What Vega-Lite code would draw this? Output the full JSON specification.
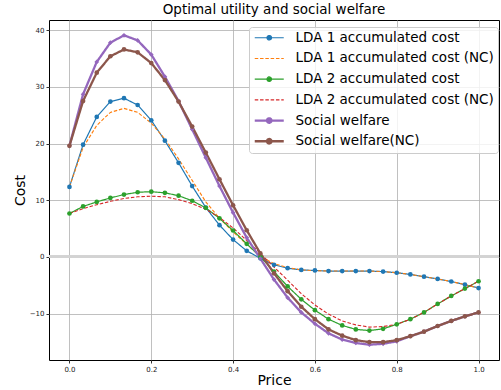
{
  "$schema": "https://vega.github.io/schema/vega-lite/v6.json",
  "width": 450,
  "height": 340,
  "autosize": {"type": "none"},
  "padding": {"left": 49, "top": 20, "right": 2, "bottom": 30},
  "background": "white",
  "title": {"text": "Optimal utility and social welfare", "fontSize": 13.5, "fontWeight": "normal", "font": "DejaVu Sans", "color": "#000", "offset": 4, "anchor": "middle"},
  "config": {
    "font": "DejaVu Sans",
    "view": {"stroke": "#000", "strokeWidth": 1},
    "axis": {"domain": false, "grid": true, "gridColor": "#b0b0b0", "gridWidth": 0.8, "tickColor": "#000", "tickSize": 3, "tickWidth": 0.8, "labelFontSize": 7, "labelColor": "#222", "labelPadding": 2, "titleFontSize": 14, "titleFontWeight": "normal", "titleColor": "#000"}
  },
  "data": {"values": [
    {"p": 0.0, "LDA 1 accumulated cost": 12.35, "LDA 1 accumulated cost (NC)": 12.35, "LDA 2 accumulated cost": 7.65, "LDA 2 accumulated cost (NC)": 7.65, "Social welfare": 19.6, "Social welfare(NC)": 19.6},
    {"p": 0.0333, "LDA 1 accumulated cost": 19.8, "LDA 1 accumulated cost (NC)": 19.3, "LDA 2 accumulated cost": 8.9, "LDA 2 accumulated cost (NC)": 8.5, "Social welfare": 28.7, "Social welfare(NC)": 27.5},
    {"p": 0.0667, "LDA 1 accumulated cost": 24.7, "LDA 1 accumulated cost (NC)": 23.2, "LDA 2 accumulated cost": 9.7, "LDA 2 accumulated cost (NC)": 9.2, "Social welfare": 34.4, "Social welfare(NC)": 32.5},
    {"p": 0.1, "LDA 1 accumulated cost": 27.4, "LDA 1 accumulated cost (NC)": 25.5, "LDA 2 accumulated cost": 10.4, "LDA 2 accumulated cost (NC)": 9.8, "Social welfare": 37.8, "Social welfare(NC)": 35.4},
    {"p": 0.1333, "LDA 1 accumulated cost": 28.0, "LDA 1 accumulated cost (NC)": 26.2, "LDA 2 accumulated cost": 11.0, "LDA 2 accumulated cost (NC)": 10.3, "Social welfare": 39.1, "Social welfare(NC)": 36.6},
    {"p": 0.1667, "LDA 1 accumulated cost": 26.8, "LDA 1 accumulated cost (NC)": 25.5, "LDA 2 accumulated cost": 11.4, "LDA 2 accumulated cost (NC)": 10.6, "Social welfare": 38.2, "Social welfare(NC)": 36.1},
    {"p": 0.2, "LDA 1 accumulated cost": 24.1, "LDA 1 accumulated cost (NC)": 23.6, "LDA 2 accumulated cost": 11.5, "LDA 2 accumulated cost (NC)": 10.7, "Social welfare": 35.7, "Social welfare(NC)": 34.2},
    {"p": 0.2333, "LDA 1 accumulated cost": 20.5, "LDA 1 accumulated cost (NC)": 20.8, "LDA 2 accumulated cost": 11.3, "LDA 2 accumulated cost (NC)": 10.6, "Social welfare": 31.8, "Social welfare(NC)": 31.2},
    {"p": 0.2667, "LDA 1 accumulated cost": 16.6, "LDA 1 accumulated cost (NC)": 17.3, "LDA 2 accumulated cost": 10.8, "LDA 2 accumulated cost (NC)": 10.1, "Social welfare": 27.5, "Social welfare(NC)": 27.4},
    {"p": 0.3, "LDA 1 accumulated cost": 12.5, "LDA 1 accumulated cost (NC)": 13.5, "LDA 2 accumulated cost": 9.9, "LDA 2 accumulated cost (NC)": 9.4, "Social welfare": 22.5, "Social welfare(NC)": 23.0},
    {"p": 0.3333, "LDA 1 accumulated cost": 8.7, "LDA 1 accumulated cost (NC)": 9.7, "LDA 2 accumulated cost": 8.65, "LDA 2 accumulated cost (NC)": 8.4, "Social welfare": 17.5, "Social welfare(NC)": 18.4},
    {"p": 0.3667, "LDA 1 accumulated cost": 5.6, "LDA 1 accumulated cost (NC)": 6.8, "LDA 2 accumulated cost": 6.8, "LDA 2 accumulated cost (NC)": 6.95, "Social welfare": 12.5, "Social welfare(NC)": 13.7},
    {"p": 0.4, "LDA 1 accumulated cost": 3.05, "LDA 1 accumulated cost (NC)": 4.4, "LDA 2 accumulated cost": 4.65, "LDA 2 accumulated cost (NC)": 5.1, "Social welfare": 7.8, "Social welfare(NC)": 9.1},
    {"p": 0.4333, "LDA 1 accumulated cost": 1.06, "LDA 1 accumulated cost (NC)": 2.2, "LDA 2 accumulated cost": 2.3, "LDA 2 accumulated cost (NC)": 2.9, "Social welfare": 3.4, "Social welfare(NC)": 4.7},
    {"p": 0.4667, "LDA 1 accumulated cost": -0.25, "LDA 1 accumulated cost (NC)": 0.1, "LDA 2 accumulated cost": 0.0, "LDA 2 accumulated cost (NC)": 0.6, "Social welfare": -0.3, "Social welfare(NC)": 0.6},
    {"p": 0.5, "LDA 1 accumulated cost": -1.4, "LDA 1 accumulated cost (NC)": -1.2, "LDA 2 accumulated cost": -2.6, "LDA 2 accumulated cost (NC)": -1.8, "Social welfare": -4.0, "Social welfare(NC)": -2.9},
    {"p": 0.5333, "LDA 1 accumulated cost": -2.0, "LDA 1 accumulated cost (NC)": -1.9, "LDA 2 accumulated cost": -5.2, "LDA 2 accumulated cost (NC)": -4.1, "Social welfare": -7.2, "Social welfare(NC)": -6.05},
    {"p": 0.5667, "LDA 1 accumulated cost": -2.3, "LDA 1 accumulated cost (NC)": -2.3, "LDA 2 accumulated cost": -7.5, "LDA 2 accumulated cost (NC)": -6.5, "Social welfare": -9.8, "Social welfare(NC)": -8.8},
    {"p": 0.6, "LDA 1 accumulated cost": -2.4, "LDA 1 accumulated cost (NC)": -2.45, "LDA 2 accumulated cost": -9.4, "LDA 2 accumulated cost (NC)": -8.5, "Social welfare": -11.8, "Social welfare(NC)": -11.0},
    {"p": 0.6333, "LDA 1 accumulated cost": -2.5, "LDA 1 accumulated cost (NC)": -2.5, "LDA 2 accumulated cost": -11.0, "LDA 2 accumulated cost (NC)": -10.1, "Social welfare": -13.5, "Social welfare(NC)": -12.8},
    {"p": 0.6667, "LDA 1 accumulated cost": -2.5, "LDA 1 accumulated cost (NC)": -2.5, "LDA 2 accumulated cost": -12.1, "LDA 2 accumulated cost (NC)": -11.3, "Social welfare": -14.6, "Social welfare(NC)": -13.9},
    {"p": 0.7, "LDA 1 accumulated cost": -2.5, "LDA 1 accumulated cost (NC)": -2.5, "LDA 2 accumulated cost": -12.8, "LDA 2 accumulated cost (NC)": -12.0, "Social welfare": -15.2, "Social welfare(NC)": -14.7},
    {"p": 0.7333, "LDA 1 accumulated cost": -2.5, "LDA 1 accumulated cost (NC)": -2.5, "LDA 2 accumulated cost": -13.0, "LDA 2 accumulated cost (NC)": -12.4, "Social welfare": -15.5, "Social welfare(NC)": -15.05},
    {"p": 0.7667, "LDA 1 accumulated cost": -2.6, "LDA 1 accumulated cost (NC)": -2.6, "LDA 2 accumulated cost": -12.7, "LDA 2 accumulated cost (NC)": -12.3, "Social welfare": -15.35, "Social welfare(NC)": -15.05},
    {"p": 0.8, "LDA 1 accumulated cost": -2.8, "LDA 1 accumulated cost (NC)": -2.8, "LDA 2 accumulated cost": -11.9, "LDA 2 accumulated cost (NC)": -11.9, "Social welfare": -14.9, "Social welfare(NC)": -14.7},
    {"p": 0.8333, "LDA 1 accumulated cost": -3.1, "LDA 1 accumulated cost (NC)": -3.1, "LDA 2 accumulated cost": -11.0, "LDA 2 accumulated cost (NC)": -11.0, "Social welfare": -14.0, "Social welfare(NC)": -14.0},
    {"p": 0.8667, "LDA 1 accumulated cost": -3.5, "LDA 1 accumulated cost (NC)": -3.5, "LDA 2 accumulated cost": -9.8, "LDA 2 accumulated cost (NC)": -9.8, "Social welfare": -13.2, "Social welfare(NC)": -13.2},
    {"p": 0.9, "LDA 1 accumulated cost": -3.9, "LDA 1 accumulated cost (NC)": -3.9, "LDA 2 accumulated cost": -8.3, "LDA 2 accumulated cost (NC)": -8.3, "Social welfare": -12.2, "Social welfare(NC)": -12.2},
    {"p": 0.9333, "LDA 1 accumulated cost": -4.35, "LDA 1 accumulated cost (NC)": -4.35, "LDA 2 accumulated cost": -6.9, "LDA 2 accumulated cost (NC)": -6.9, "Social welfare": -11.3, "Social welfare(NC)": -11.3},
    {"p": 0.9667, "LDA 1 accumulated cost": -4.9, "LDA 1 accumulated cost (NC)": -4.9, "LDA 2 accumulated cost": -5.6, "LDA 2 accumulated cost (NC)": -5.6, "Social welfare": -10.5, "Social welfare(NC)": -10.5},
    {"p": 1.0, "LDA 1 accumulated cost": -5.5, "LDA 1 accumulated cost (NC)": -5.5, "LDA 2 accumulated cost": -4.3, "LDA 2 accumulated cost (NC)": -4.3, "Social welfare": -9.8, "Social welfare(NC)": -9.8}
  ]},
  "transform": [
    {"fold": ["LDA 1 accumulated cost", "LDA 1 accumulated cost (NC)", "LDA 2 accumulated cost", "LDA 2 accumulated cost (NC)", "Social welfare", "Social welfare(NC)"], "as": ["series", "cost"]}
  ],
  "encoding": {
    "x": {"field": "p", "type": "quantitative", "title": "Price", "scale": {"domain": [-0.05, 1.05], "nice": false, "zero": false}, "axis": {"values": [0, 0.2, 0.4, 0.6, 0.8, 1.0], "format": ".1f", "titlePadding": 1}},
    "y": {"field": "cost", "type": "quantitative", "title": "Cost", "scale": {"domain": [-18.2, 41.8], "nice": false, "zero": false}, "axis": {"values": [-10, 0, 10, 20, 30, 40], "titlePadding": 2}}
  },
  "layer": [
    {
      "mark": {"type": "rule", "color": "#d3d3d3", "strokeWidth": 2},
      "encoding": {"y": {"datum": 0}, "x": {"value": 0}, "x2": {"value": 450}}
    },
    {
      "mark": {"type": "line", "strokeCap": "butt"},
      "encoding": {
        "color": {"field": "series", "type": "nominal", "title": null,
          "scale": {"domain": ["LDA 1 accumulated cost", "LDA 1 accumulated cost (NC)", "LDA 2 accumulated cost", "LDA 2 accumulated cost (NC)", "Social welfare", "Social welfare(NC)"], "range": ["#1f77b4", "#ff7f0e", "#2ca02c", "#d62728", "#9467bd", "#8c564b"]},
          "legend": {"orient": "none", "legendX": 200, "legendY": 7, "labelFontSize": 13.5, "labelColor": "#000", "symbolSize": 100, "labelOffset": 29, "rowPadding": 5.7, "padding": 4, "strokeColor": "#cccccc", "fillColor": "rgba(255,255,255,0.8)", "cornerRadius": 3, "labelLimit": 300,
            "encode": {"symbols": {"update": {
              "shape": {"signal": "indexof(datum.value, 'LDA') >= 0 && indexof(datum.value, '(NC)') >= 0 ? 'M-1,0L4.8,0' : 'M-1,0L4.8,0M1.45,0A0.45,0.45,0,1,1,2.35,0A0.45,0.45,0,1,1,1.45,0Z'"},
              "stroke": {"scale": "color", "field": "value"},
              "fill": {"scale": "color", "field": "value"},
              "fillOpacity": {"value": 1},
              "opacity": {"value": 1},
              "strokeDash": {"signal": "indexof(datum.value, 'LDA') >= 0 && indexof(datum.value, '(NC)') >= 0 ? [3.5, 1.8] : [1, 0]"},
              "strokeWidth": {"signal": "indexof(datum.value, 'Social') >= 0 ? 2.3 : 1.2"}
            }}}
          }
        },
        "strokeDash": {"field": "series", "type": "nominal", "legend": null,
          "scale": {"domain": ["LDA 1 accumulated cost", "LDA 1 accumulated cost (NC)", "LDA 2 accumulated cost", "LDA 2 accumulated cost (NC)", "Social welfare", "Social welfare(NC)"], "range": [[1, 0], [3.5, 1.8], [1, 0], [3.5, 1.8], [1, 0], [1, 0]]}},
        "strokeWidth": {"field": "series", "type": "ordinal", "legend": null,
          "scale": {"type": "ordinal", "domain": ["LDA 1 accumulated cost", "LDA 1 accumulated cost (NC)", "LDA 2 accumulated cost", "LDA 2 accumulated cost (NC)", "Social welfare", "Social welfare(NC)"], "range": [1.2, 1.1, 1.2, 1.1, 2.3, 2.3]}}
      }
    },
    {
      "transform": [{"filter": {"field": "series", "oneOf": ["LDA 1 accumulated cost", "LDA 2 accumulated cost", "Social welfare", "Social welfare(NC)"]}}],
      "mark": {"type": "point", "filled": true, "opacity": 1},
      "encoding": {
        "color": {"field": "series", "type": "nominal"},
        "shape": {"field": "series", "type": "nominal", "legend": null, "scale": {"domain": ["LDA 1 accumulated cost", "LDA 2 accumulated cost", "Social welfare", "Social welfare(NC)"], "range": ["circle", "circle", "diamond", "circle"]}},
        "size": {"field": "series", "type": "nominal", "legend": null, "scale": {"domain": ["LDA 1 accumulated cost", "LDA 2 accumulated cost", "Social welfare", "Social welfare(NC)"], "range": [22, 22, 12, 24]}}
      }
    }
  ]
}
